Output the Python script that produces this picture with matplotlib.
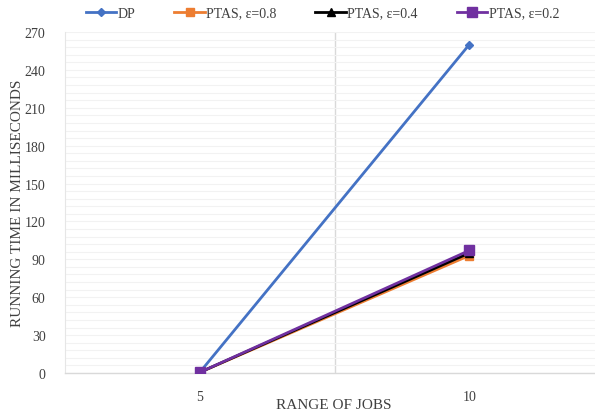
import matplotlib
matplotlib.use("Agg")
import matplotlib.pyplot as plt
import numpy as np

categories = ["5", "10"]
dp = [0.5, 260]
ptas_08 = [0.5, 93]
ptas_04 = [0.5, 95]
ptas_02 = [0.5, 97]
yticks = [0, 30, 60, 90, 120, 150, 180, 210, 240, 270]

plt.rcParams['font.family'] = ['Liberation Serif', 'DejaVu Serif']

fig = plt.figure(figsize=(5.95, 4.14), dpi=100)
L, R, T, B = 65, 604, 33, 374
ax = fig.add_axes([L/595, 1 - B/414, (R-L)/595, (B-T)/414])

x = np.arange(len(categories))
ax.plot(x, dp, color='#4472C4', lw=2.0, marker='D', ms=4.5, label='DP', zorder=3)
ax.plot(x, ptas_08, color='#ED7D31', lw=2.0, marker='s', ms=5.5, label='PTAS, ε=0.8', zorder=4)
ax.plot(x, ptas_04, color='#000000', lw=2.0, marker='^', ms=5.5, label='PTAS, ε=0.4', zorder=5)
ax.plot(x, ptas_02, color='#7030A0', lw=2.0, marker='s', ms=6.5, label='PTAS, ε=0.2', zorder=6)

ax.set_xlim(-0.5, len(categories) - 0.5)
ax.set_ylim(0, 270)
ax.set_yticks(yticks)
ax.set_yticks(np.arange(0, 271, 6), minor=True)
ax.set_xticks(x)
ax.set_xticklabels(categories)
ax.tick_params(axis='both', which='both', length=0, labelsize=10, colors='#404040')
ax.tick_params(axis='y', pad=14)
ax.tick_params(axis='x', pad=12)
ax.grid(axis='y', which='both', color='#F2F2F2', lw=0.8, zorder=0)
ax.grid(axis='x', which='major', visible=False)
ax.axvline(0.5, color='#D9D9D9', lw=1.0, zorder=1)

for s in ['top', 'right']:
    ax.spines[s].set_visible(False)
ax.spines['left'].set_color('#E6E6E6')
ax.spines['bottom'].set_color('#D9D9D9')
ax.spines['bottom'].set_linewidth(1.0)

fig.text(334/595, 1 - 406/414, 'RANGE OF JOBS', ha='center', va='center',
         fontsize=11, color='#404040')
fig.text(18/595, 1 - 203/414, 'RUNNING TIME IN MILLISECONDS', ha='center', va='center',
         rotation=90, fontsize=11, color='#404040')

fig.legend(loc='center', bbox_to_anchor=(0.542, 1 - 14/414), ncol=4, frameon=False,
           fontsize=10, handlelength=2.2, columnspacing=2.8, handletextpad=0.1,
           labelcolor='#404040')

fig.savefig('out.png', dpi=100)
